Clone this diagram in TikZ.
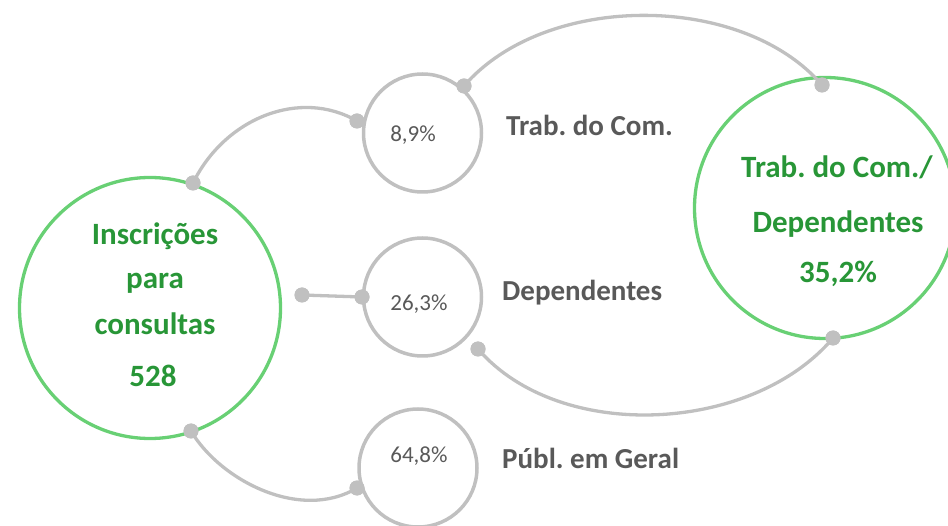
\documentclass[tikz,border=0pt]{standalone}
\usepackage{fontspec}
\setmainfont{Carlito}
\frenchspacing
\definecolor{lg}{RGB}{104,208,116}
\definecolor{dg}{RGB}{40,150,55}
\definecolor{gl}{RGB}{192,192,192}
\definecolor{gt}{RGB}{89,89,89}
\begin{document}
\begin{tikzpicture}[x=1pt,y=-1pt,
  bigc/.style={circle, draw=lg, line width=3.3pt, minimum size=261pt, inner sep=0pt},
  smallc/.style={circle, draw=gl, line width=3.5pt, minimum size=118pt, inner sep=0pt},
  dot/.style={circle, fill=gl, minimum size=15pt, inner sep=0pt},
  conn/.style={draw=gl, line width=3.3pt},
  gtext/.style={text=dg, font=\fontsize{31}{37}\selectfont\bfseries, anchor=base, inner sep=0pt},
  lab/.style={text=gt, font=\fontsize{29}{34}\selectfont\bfseries, anchor=base west, inner sep=0pt},
  pct/.style={text=gt, font=\fontsize{23}{28}\selectfont, anchor=base, inner sep=0pt}]
\useasboundingbox (0,0) rectangle (948,526);

% circles
\node[bigc] (L) at (150,308) {};
\node[bigc] (R) at (825,208) {};
\node[smallc] (A) at (422.5,133) {};
\node[smallc] (B) at (422.5,297) {};
\node[smallc] (C) at (418,468) {};

% dots
\node[dot] (Lt) at (193,183) {};
\node[dot] (Lb) at (191,431) {};
\node[dot] (Lm) at (302,295) {};
\node[dot] (Al) at (357,121) {};
\node[dot] (Ar) at (464,86) {};
\node[dot] (Bl) at (362,297) {};
\node[dot] (Br) at (478,349) {};
\node[dot] (Cl) at (357,488) {};
\node[dot] (Rt) at (822,85) {};
\node[dot] (Rb) at (833,338) {};

% connectors
\draw[conn] (Lt.center) .. controls (225,118) and (300,88) .. (Al.center);
\draw[conn] (Lb.center) .. controls (220,480) and (300,522) .. (Cl.center);
\draw[conn] (Lm.center) -- (Bl.center);
\draw[conn] (Ar.center) .. controls (545,-8) and (742,-8) .. (Rt.center);
\draw[conn] (Br.center) .. controls (560,444) and (753,433) .. (Rb.center);

% redraw dots on top
\foreach \d in {Lt,Lb,Lm,Al,Ar,Bl,Br,Cl,Rt,Rb} \fill[gl] (\d.center) circle (7.5pt);

% green texts
\node[gtext] (t1) at (155,245) {Inscrições};
\node[gtext] (t2) at (155,289) {para};
\node[gtext] (t3) at (155,335) {consultas};
\node[gtext] (t4) at (153,387) {528};
\node[gtext] (r1) at (837,178) {Trab. do Com./};
\node[gtext] (r2) at (838,233) {Dependentes};
\node[gtext] (r3) at (838,283) {35,2\%};

% labels
\node[lab] (la) at (506,136) {Trab. do Com.};
\node[lab] (lb) at (502,301) {Dependentes};
\node[lab] (lc) at (502,468) {Públ. em Geral};

% percents
\node[pct] (pa) at (413,142) {8,9\%};
\node[pct] (pb) at (419,311) {26,3\%};
\node[pct] (pc) at (419,463) {64,8\%};
\end{tikzpicture}
\end{document}
